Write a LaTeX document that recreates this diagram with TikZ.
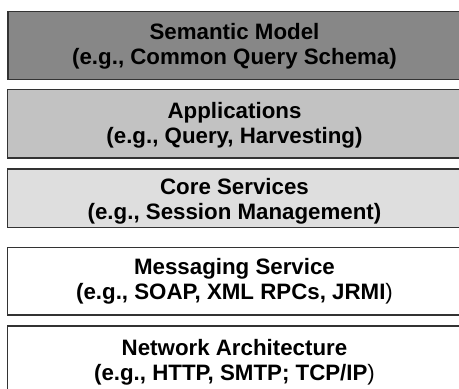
\documentclass[tikz,border=0pt]{standalone}
\usepackage{fontspec}
\setmainfont{Liberation Sans}
\begin{document}
\begin{tikzpicture}[x=1pt,y=-1pt,
  layer/.style={draw=black!80, line width=1.5pt},
  lbl/.style={align=center, font=\fontsize{22.3}{25}\selectfont\bfseries, inner sep=0pt}]
\useasboundingbox (0,0) rectangle (459,389);
\clip (0,0) rectangle (459,389);
\filldraw[layer, fill=black!47] (8,11.5) rectangle (475,79.5);
\filldraw[layer, fill=black!24] (7.5,89.5) rectangle (475,158);
\filldraw[layer, fill=black!13] (7.5,169) rectangle (475,227.5);
\filldraw[layer, fill=white] (7.5,247.5) rectangle (475,315);
\filldraw[layer, fill=white] (7.5,326) rectangle (475,397);
\node[lbl] (semantic) at (234.5,46) {Semantic Model\\(e.g., Common Query Schema)};
\node[lbl] (apps) at (234.5,125) {Applications\\(e.g., Query, Harvesting)};
\node[lbl] (core) at (234.5,201) {Core Services\\(e.g., Session Management)};
\node[lbl] (msg) at (234.5,281) {Messaging Service\\(e.g., SOAP, XML RPCs, JRMI{\mdseries)}};
\node[lbl] (net) at (234.5,362) {Network Architecture\\(e.g., HTTP, SMTP; TCP/IP{\mdseries)}};
\end{tikzpicture}
\end{document}
